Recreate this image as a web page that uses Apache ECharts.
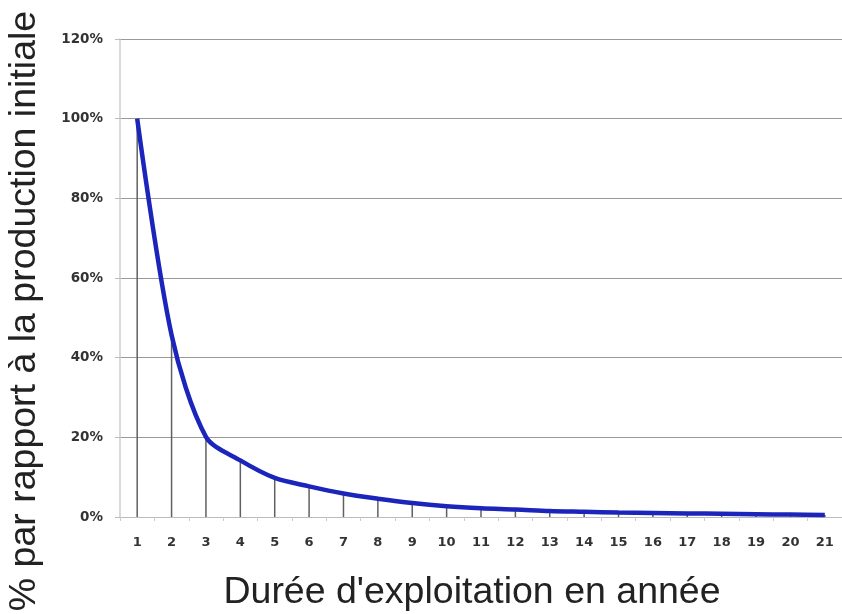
<!DOCTYPE html>
<html>
<head>
<meta charset="utf-8">
<script src="https://cdn.jsdelivr.net/npm/echarts@6/dist/echarts.min.js"></script>
<style>
html,body{margin:0;padding:0;background:#fff;}
#chart{width:842px;height:614px;}
</style>
</head>
<body>
<div id="chart"></div>
<script>
const years = ['1','2','3','4','5','6','7','8','9','10','11','12','13','14','15','16','17','18','19','20','21'];
const production = [100, 45.7, 20.1, 14.2, 9.8, 7.7, 5.9, 4.6, 3.5, 2.7, 2.2, 1.9, 1.5, 1.3, 1.1, 1.0, 0.9, 0.8, 0.7, 0.6, 0.5];
const yTicks = [0, 20, 40, 60, 80, 100, 120];
const xTitle = "Durée d'exploitation en année";
const yTitle = "% par rapport à la production initiale";

const chart = echarts.init(document.getElementById('chart'), null, {renderer: 'canvas'});
chart.setOption({
  animation: false,
  backgroundColor: '#fff',
  grid: {left: 120, right: -6, top: 39, bottom: 97, containLabel: false},
  xAxis: {
    type: 'category',
    data: years,
    boundaryGap: true,
    axisLine: {show: true, lineStyle: {color: '#bbb', width: 1}},
    axisTick: {show: true, length: 4, lineStyle: {color: '#ccc'}},
    axisLabel: {margin: 19, color: '#333', fontFamily: 'DejaVu Sans', fontWeight: 'bold', fontSize: 13}
  },
  yAxis: {
    type: 'value',
    min: yTicks[0],
    max: yTicks[yTicks.length - 1],
    interval: 20,
    axisLine: {show: true, lineStyle: {color: '#ccc', width: 1.5}},
    axisTick: {show: true, length: 5, lineStyle: {color: '#bbb'}},
    splitLine: {show: true, lineStyle: {color: '#999', width: 1}},
    axisLabel: {margin: 17, color: '#333', fontFamily: 'DejaVu Sans', fontWeight: 'bold', fontSize: 13.5,
      formatter: v => v + '%'}
  },
  graphic: [
    {type: 'text', x: 472, y: 593, z: 10,
      style: {text: xTitle, fontFamily: 'Liberation Sans', fontSize: 37.5, fill: '#222', textAlign: 'center', textVerticalAlign: 'middle'}},
    {type: 'text', x: 25, y: 311, rotation: Math.PI / 2, z: 10,
      style: {text: yTitle, fontFamily: 'Liberation Sans', fontSize: 37.5, fill: '#222', textAlign: 'center', textVerticalAlign: 'middle'}}
  ],
  series: [
    {
      type: 'bar',
      data: production,
      barWidth: 1.5,
      itemStyle: {color: '#606060'},
      z: 1,
      silent: true
    },
    {
      type: 'line',
      data: production,
      smooth: 0.3,
      showSymbol: false,
      lineStyle: {color: '#1c25bb', width: 4.5},
      z: 3
    }
  ]
});
</script>
</body>
</html>
